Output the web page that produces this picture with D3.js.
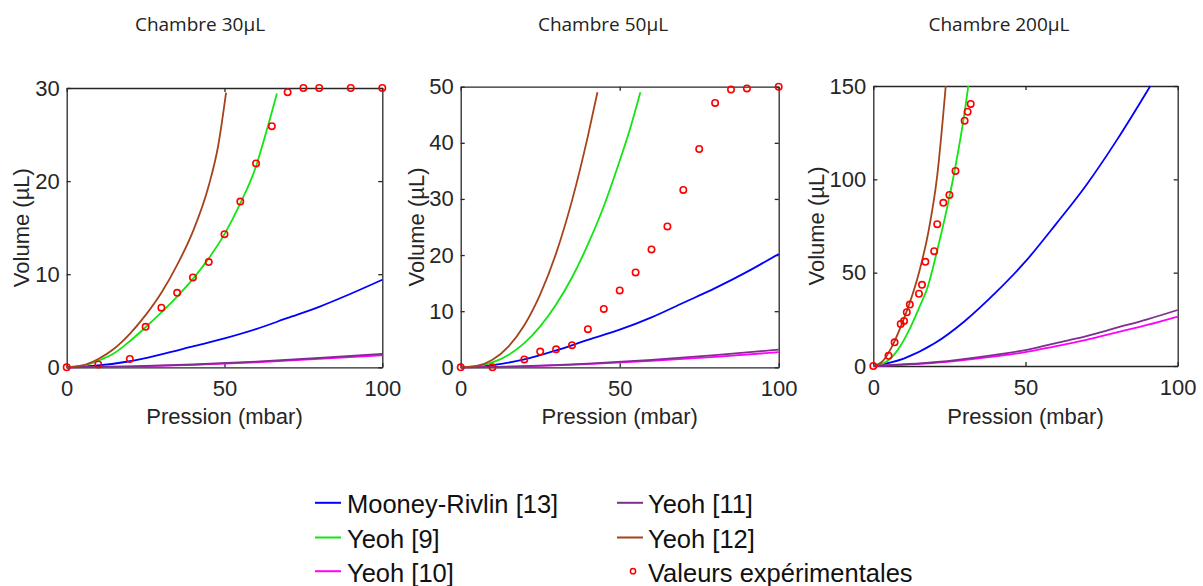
<!DOCTYPE html>
<html lang="fr">
<head>
<meta charset="UTF-8">
<title>Chambres - Volume vs Pression</title>
<script src="https://cdn.jsdelivr.net/npm/d3@7"></script>
<style>
    body { margin: 0; background: #fff; }
    svg text { font-family: "Liberation Sans", Arial, sans-serif; }
    .axis path, .axis line { fill: none; stroke: #262626; stroke-width: 1.3; }
    .axis text { font-size: 22px; fill: #262626; }
    .title { font-family: "Open Sans", sans-serif !important; font-size: 19px; fill: #222; }
    .label { font-size: 22px; fill: #262626; }
    .legend text { font-size: 25.5px; fill: #111; }
</style>
</head>
<body>
<svg id="chart" width="1203" height="586"></svg>
<script>
// ---- data ----
const titles = ["Chambre 30µL", "Chambre 50µL", "Chambre 200µL"];
const yMaxes = [30, 50, 150];
const yTicks30 = [0, 10, 20, 30];
const yTicks50 = [0, 10, 20, 30, 40, 50];
const yTicks200 = [0, 50, 100, 150];
const xTicks = [0, 50, 100];

const seriesNames = ["Mooney-Rivlin [13]", "Yeoh [9]", "Yeoh [10]", "Yeoh [11]", "Yeoh [12]", "Valeurs expérimentales"];
const seriesColors = ["#0000ff", "#11e611", "#ff00ff", "#7e2f8e", "#a5431c", "#ff0000"];

// chambre 30 µL  ([pression, volume])
const mooney30 = [[0,0],[10,0.2],[20,0.65],[30,1.4],[40,2.25],[50,3.1],[60,4.1],[70,5.3],[80,6.5],[90,7.9],[100,9.4]];
const yeoh9_30 = [[0,0],[5,0.15],[10,0.7],[15,1.5],[20,2.8],[25,4.3],[30,5.9],[35,7.6],[40,9.5],[45,11.7],[50,14.3],[55,17.6],[60,21.6],[63,25.0],[66.6,29.4]];
const yeoh10_30 = [[0,0],[20,0.08],[40,0.26],[60,0.54],[80,0.9],[100,1.3]];
const yeoh11_30 = [[0,0],[20,0.1],[40,0.3],[60,0.6],[80,1.0],[100,1.45]];
const yeoh12_30 = [[0,0],[5,0.2],[10,0.9],[15,2.0],[20,3.6],[25,5.6],[30,8.0],[35,11.0],[40,14.6],[45,19.5],[48,23.8],[50.5,29.5]];
const expP30 = [0, 10, 20, 25, 30, 35, 40, 45, 50, 55, 60, 65, 70, 75, 80, 90, 100];
const expV30 = [0, 0.3, 0.9, 4.35, 6.4, 8.0, 9.65, 11.3, 14.3, 17.8, 21.9, 25.9, 29.55, 30, 30, 30, 30];

// chambre 50 µL
const mooney50 = [[0,0],[10,0.4],[20,1.4],[30,3.0],[40,4.9],[50,6.7],[60,8.9],[70,11.5],[80,14.1],[90,17.0],[100,20.2]];
const yeoh9_50 = [[0,0],[5,0.17],[10,0.87],[15,2.2],[20,4.3],[25,7.3],[30,11.2],[35,16.0],[40,21.9],[45,28.7],[50,36.8],[53,42.0],[56.5,49]];
const yeoh10_50 = [[0,0],[20,0.18],[40,0.58],[60,1.15],[80,1.87],[100,2.7]];
const yeoh11_50 = [[0,0],[20,0.2],[40,0.66],[60,1.33],[80,2.17],[100,3.15]];
const yeoh12_50 = [[0,0],[5,0.25],[10,1.36],[15,3.7],[20,7.5],[25,13.0],[30,20.3],[35,29.7],[40,41.2],[43,49]];
const expP50 = [0, 10, 20, 25, 30, 35, 40, 45, 50, 55, 60, 65, 70, 75, 80, 85, 90, 100];
const expV50 = [0, 0, 1.4, 2.8, 3.2, 3.95, 6.8, 10.4, 13.7, 16.9, 21.0, 25.1, 31.6, 38.9, 47.1, 49.5, 49.7, 50];

// chambre 200 µL
const mooney200 = [[0,0],[10,4],[20,12],[30,24],[40,39],[50,56],[60,76],[70,97],[80,121],[91,150]];
const yeoh9_200 = [[0,0],[4,2],[8,8.5],[12,20],[15,31],[18,43],[21,62],[24,83],[27,107],[30,136],[31.2,150]];
const yeoh10_200 = [[0,0],[20,1.7],[40,5.2],[50,7.4],[60,10.7],[70,14],[80,18],[90,22],[100,26.5]];
const yeoh11_200 = [[0,0],[20,2],[40,6],[50,8.5],[60,12.3],[70,16],[80,20.5],[90,25],[100,30]];
const yeoh12_200 = [[0,0],[3,2.5],[6,10],[9,21],[12,34],[15,50],[18,71],[21,102],[23.8,150]];
const expP200 = [0, 5, 7, 9, 10.1, 11, 12, 15, 16, 17.1, 20, 21, 23, 25, 27, 30, 31, 32];
const expV200 = [0, 5.5, 12.7, 22.5, 24.1, 28.8, 32.9, 38.7, 43.5, 55.8, 61.5, 76, 87.4, 91.6, 104.5, 131.4, 136.2, 140.4];

// ---- layout ----
const panels = [
    { box: [66.7, 382.3, 88, 367.3], yTicks: yTicks30, curves: [mooney30, yeoh9_30, yeoh10_30, yeoh11_30, yeoh12_30], expP: expP30, expV: expV30, titleX: 200, ylabOff: 38 },
    { box: [460.7, 778.7, 86.7, 367.3], yTicks: yTicks50, curves: [mooney50, yeoh9_50, yeoh10_50, yeoh11_50, yeoh12_50], expP: expP50, expV: expV50, titleX: 603, ylabOff: 37 },
    { box: [873.3, 1177.7, 86, 366], yTicks: yTicks200, curves: [mooney200, yeoh9_200, yeoh10_200, yeoh11_200, yeoh12_200], expP: expP200, expV: expV200, titleX: 999, ylabOff: 49 }
];

const svg = d3.select("#chart");
svg.append("rect").attr("width", 1203).attr("height", 586).attr("fill", "#fff");

panels.forEach((p, i) => {
    const [x0, x1, yTop, yBot] = p.box;
    const x = d3.scaleLinear().domain([0, 100]).range([x0, x1]);
    const y = d3.scaleLinear().domain([0, yMaxes[i]]).range([yBot, yTop]);

    svg.append("text").attr("class", "title")
        .attr("x", p.titleX).attr("y", 30.7)
        .attr("text-anchor", "middle")
        .text(titles[i]);

    // box with inward ticks on all four sides
    svg.append("g").attr("class", "axis").attr("transform", `translate(0,${yBot})`)
        .call(d3.axisBottom(x).tickValues(xTicks).tickSizeInner(-4).tickSizeOuter(0).tickPadding(13));
    svg.append("g").attr("class", "axis").attr("transform", `translate(0,${yTop})`)
        .call(d3.axisTop(x).tickValues(xTicks).tickSizeInner(-4).tickSizeOuter(0).tickFormat(""));
    svg.append("g").attr("class", "axis").attr("transform", `translate(${x0},0)`)
        .call(d3.axisLeft(y).tickValues(p.yTicks).tickSizeInner(-4).tickSizeOuter(0).tickPadding(7));
    svg.append("g").attr("class", "axis").attr("transform", `translate(${x1},0)`)
        .call(d3.axisRight(y).tickValues(p.yTicks).tickSizeInner(-4).tickSizeOuter(0).tickFormat(""));

    svg.append("text").attr("class", "label")
        .attr("x", (x0 + x1) / 2).attr("y", 424)
        .attr("text-anchor", "middle")
        .text("Pression (mbar)");
    svg.append("text").attr("class", "label")
        .attr("transform", `translate(${x0 - p.ylabOff},${(yTop + yBot) / 2}) rotate(-90)`)
        .attr("text-anchor", "middle")
        .text("Volume (µL)");

    const line = d3.line().x(d => x(d[0])).y(d => y(d[1])).curve(d3.curveMonotoneX);
    const g = svg.append("g");
    // drawing order: blue, green, magenta, purple, brown
    p.curves.forEach((c, k) => {
        g.append("path").datum(c)
            .attr("d", line)
            .attr("fill", "none")
            .attr("stroke", seriesColors[k])
            .attr("stroke-width", 1.8);
    });

    g.selectAll("circle").data(p.expP).enter().append("circle")
        .attr("cx", d => x(d))
        .attr("cy", (d, j) => y(p.expV[j]))
        .attr("r", 3.2)
        .attr("fill", "none")
        .attr("stroke", seriesColors[5])
        .attr("stroke-width", 1.6);
});

// legend
const legendCols = [{ lx: 315, tx: 347 }, { lx: 617, tx: 648 }];
const legendRows = [513.3, 548, 581.7];
const legend = svg.append("g").attr("class", "legend");
seriesNames.forEach((name, k) => {
    const col = legendCols[Math.floor(k / 3)];
    const base = legendRows[k % 3];
    if (k < 5) {
        legend.append("line")
            .attr("x1", col.lx).attr("x2", col.lx + 26)
            .attr("y1", base - 10.5).attr("y2", base - 10.5)
            .attr("stroke", seriesColors[k]).attr("stroke-width", 2);
    } else {
        legend.append("circle")
            .attr("cx", col.lx + 16).attr("cy", base - 10.5).attr("r", 2.6)
            .attr("fill", "none").attr("stroke", seriesColors[k]).attr("stroke-width", 1.5);
    }
    legend.append("text").attr("x", col.tx).attr("y", base).text(name);
});
</script>
</body>
</html>
